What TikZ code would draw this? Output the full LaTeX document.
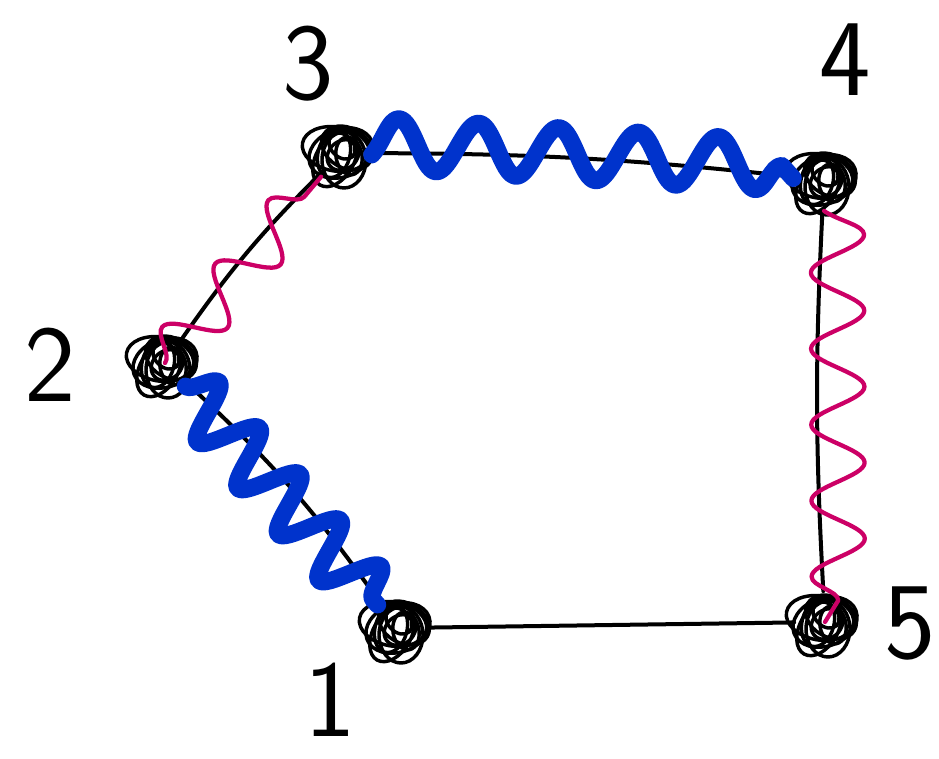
\documentclass[tikz,border=0pt]{standalone}
\usetikzlibrary{decorations.pathmorphing}
\definecolor{wblue}{HTML}{0033CC}
\definecolor{wmag}{HTML}{CC0066}
\begin{document}
\begin{tikzpicture}[x=0.75pt,y=-0.75pt,
  vtx/.style={circle, minimum size=46pt, inner sep=0pt},
  wire/.style={line width=3pt, line cap=round, line join=round},
  lbl/.style={font=\fontsize{82}{82}\selectfont\sffamily, inner sep=0pt},
  bluewave/.style 2 args={draw=wblue, line width=13pt, line cap=round, line join=round,
     decorate, decoration={snake, segment length=#1, amplitude=#2}},
  magwave/.style 2 args={draw=wmag, line width=3.2pt, line cap=round, line join=round,
     decorate, decoration={snake, segment length=#1, amplitude=#2}},
]
\clip (0,0) rectangle (939,758);
\fill[white] (0,0) rectangle (939,758);

\node[vtx] (n1) at (398,628) {};
\node[vtx] (n2) at (165,363) {};
\node[vtx] (n3) at (341,153) {};
\node[vtx] (n4) at (824,180) {};
\node[vtx] (n5) at (825,622) {};

\node[lbl] (l1) at (330,700) {1};
\node[lbl] (l2) at (50,365) {2};
\node[lbl] (l3) at (308,64) {3};
\node[lbl] (l4) at (845,60) {4};
\node[lbl] (l5) at (910,624) {5};

% black edges
\draw[wire] (n2) to[bend left=6] (n1);
\draw[wire] (n2) to[bend left=5] (n3);
\draw[wire] (n3) to[bend left=3] (n4);
\draw[wire] (n4) to[bend right=3] (n5);
\draw[wire] (n5) -- (n1);

% scribbled vertices
\foreach \v in {n1,n2,n3,n4,n5}{
  \foreach \dx/\dy/\rx/\ry/\rt in {0/0/33/24/20, 6/-5/27/20/-30, -6/6/30/19/60, 3/7/22/28/0, -5/-4/34/22/-10, 2/2/17/14/40, 8/3/13/19/10, -7/1/24/16/75, 1/-7/15/11/-45}{
    \draw[wire, line width=2.6pt] (\v.center) ++(\dx,\dy) circle [x radius=\rx, y radius=\ry, rotate=\rt];
  }
}

% wavy connectors
\draw[bluewave={46pt}{21pt}] (n2) -- (n1);
\draw[bluewave={60pt}{19pt}, decoration={raise=9pt}] (n3) -- (n4);
\draw[magwave={62pt}{19pt}] (n2.center) -- (n3);
\draw[magwave={57pt}{20pt}, decoration={raise=10pt}] (n4) -- (n5.center);
\end{tikzpicture}
\end{document}
